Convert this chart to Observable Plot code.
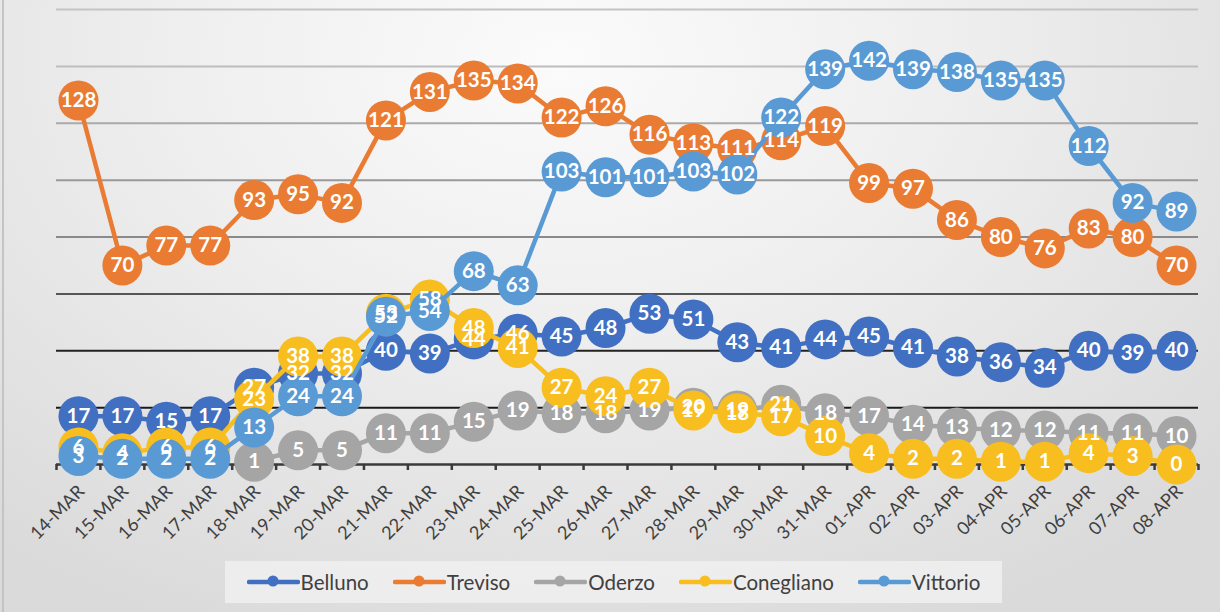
<!DOCTYPE html>
<html>
<head>
<meta charset="utf-8">
<script src="https://cdn.jsdelivr.net/npm/d3@7"></script>
<script src="https://cdn.jsdelivr.net/npm/@observablehq/plot@0.6"></script>
<style>
  html, body { margin: 0; padding: 0; }
  body {
    width: 1220px; height: 612px; overflow: hidden; position: relative;
    background: radial-gradient(ellipse 900px 620px at 560px 60px, #fbfbfb 0%, #eeeeee 45%, #dadada 100%);
    font-family: Lato, "Open Sans", sans-serif;
  }
  #frame { position: absolute; left: 2px; top: 0; width: 2px; height: 612px; background: #c4c4c4; }
  #chart { position: absolute; left: 0; top: 0; }
  #legend {
    position: absolute; left: 225px; top: 561px; width: 777px; height: 42px;
    background: rgba(240,240,240,0.85);
    display: flex; align-items: center; justify-content: center; gap: 24px;
    font-size: 20.5px; color: #404040;
  }
  .item { display: flex; align-items: center; }
  .item svg { margin-right: 1px; }
</style>
</head>
<body>
<div id="frame"></div>
<div id="chart"></div>
<div id="legend"></div>
<script>
const dates = ["14-MAR","15-MAR","16-MAR","17-MAR","18-MAR","19-MAR","20-MAR","21-MAR","22-MAR","23-MAR","24-MAR","25-MAR","26-MAR","27-MAR","28-MAR","29-MAR","30-MAR","31-MAR","01-APR","02-APR","03-APR","04-APR","05-APR","06-APR","07-APR","08-APR"];
const seriesNames = ["Belluno","Treviso","Oderzo","Conegliano","Vittorio"];
const belluno    = [17,17,15,17,27,32,32,40,39,44,46,45,48,53,51,43,41,44,45,41,38,36,34,40,39,40];
const treviso    = [128,70,77,77,93,95,92,121,131,135,134,122,126,116,113,111,114,119,99,97,86,80,76,83,80,70];
const oderzo     = [null,null,null,null,1,5,5,11,11,15,19,18,18,19,20,19,21,18,17,14,13,12,12,11,11,10];
const conegliano = [6,4,6,6,23,38,38,53,58,48,41,27,24,27,19,18,17,10,4,2,2,1,1,4,3,0];
const vittorio   = [3,2,2,2,13,24,24,52,54,68,63,103,101,101,103,102,122,139,142,139,138,135,135,112,92,89];
const gridValues = [20,40,60,80,100,120,140,160];

const seriesValues = [belluno, treviso, oderzo, conegliano, vittorio];
const colors = ["#4170C2","#EA7B33","#A5A5A5","#F8BD1E","#5A9AD4"];
const gridColors = {20:"#1a1a1a",40:"#222",60:"#555",80:"#8a8a8a",100:"#999",120:"#aaa",140:"#bdbdbd",160:"#c4c4c4"};

const rowsBySeries = seriesNames.map((name, s) =>
  seriesValues[s].map((v, i) => ({i, v, name})));
const allRows = rowsBySeries.flat().filter(d => d.v != null);

const marks = [
  Plot.ruleY(gridValues, {y: d => d, stroke: d => gridColors[d], strokeWidth: 2}),
  Plot.ruleY([0], {stroke: "#3a3a3a", strokeWidth: 2.5}),
  Plot.axisX(d3.range(-0.5, dates.length + 0.5, 1), {tickSize: 6, tickFormat: () => "", label: null,
    stroke: "#3a3a3a", strokeWidth: 2.5}),
  Plot.text(d3.range(dates.length), {x: i => i, y: () => 0, text: i => dates[i], rotate: -45,
    textAnchor: "end", dx: 3, dy: 24, fontSize: 18, fill: "#404040", fontFamily: "Lato"})
];
rowsBySeries.forEach((rows, s) => {
  marks.push(Plot.line(rows, {x: "i", y: "v", stroke: colors[s], strokeWidth: 4.5, strokeLinejoin: "round"}));
  marks.push(Plot.dot(rows.filter(d => d.v != null), {x: "i", y: "v", r: 20, fill: colors[s], stroke: "none"}));
});
marks.push(Plot.text(allRows, {x: "i", y: "v", text: d => String(d.v), fill: "white",
  fontSize: 20.5, fontWeight: "bold", fontFamily: "Lato"}));

const chart = Plot.plot({
  width: 1220, height: 555,
  marginLeft: 56, marginRight: 22, marginTop: 9, marginBottom: 91,
  style: {background: "transparent", overflow: "visible"},
  x: {type: "linear", domain: [-0.5, dates.length - 0.5], axis: null},
  y: {domain: [0, 160], axis: null},
  marks
});
document.getElementById("chart").appendChild(chart);

const legend = document.getElementById("legend");
seriesNames.forEach((name, s) => {
  const item = document.createElement("div");
  item.className = "item";
  item.innerHTML = `<svg width="53" height="16"><line x1="2" x2="51" y1="8" y2="8" stroke="${colors[s]}" stroke-width="4.5" stroke-linecap="round"/><circle cx="26" cy="7" r="5.5" fill="${colors[s]}"/></svg><span>${name}</span>`;
  legend.appendChild(item);
});
</script>
</body>
</html>
